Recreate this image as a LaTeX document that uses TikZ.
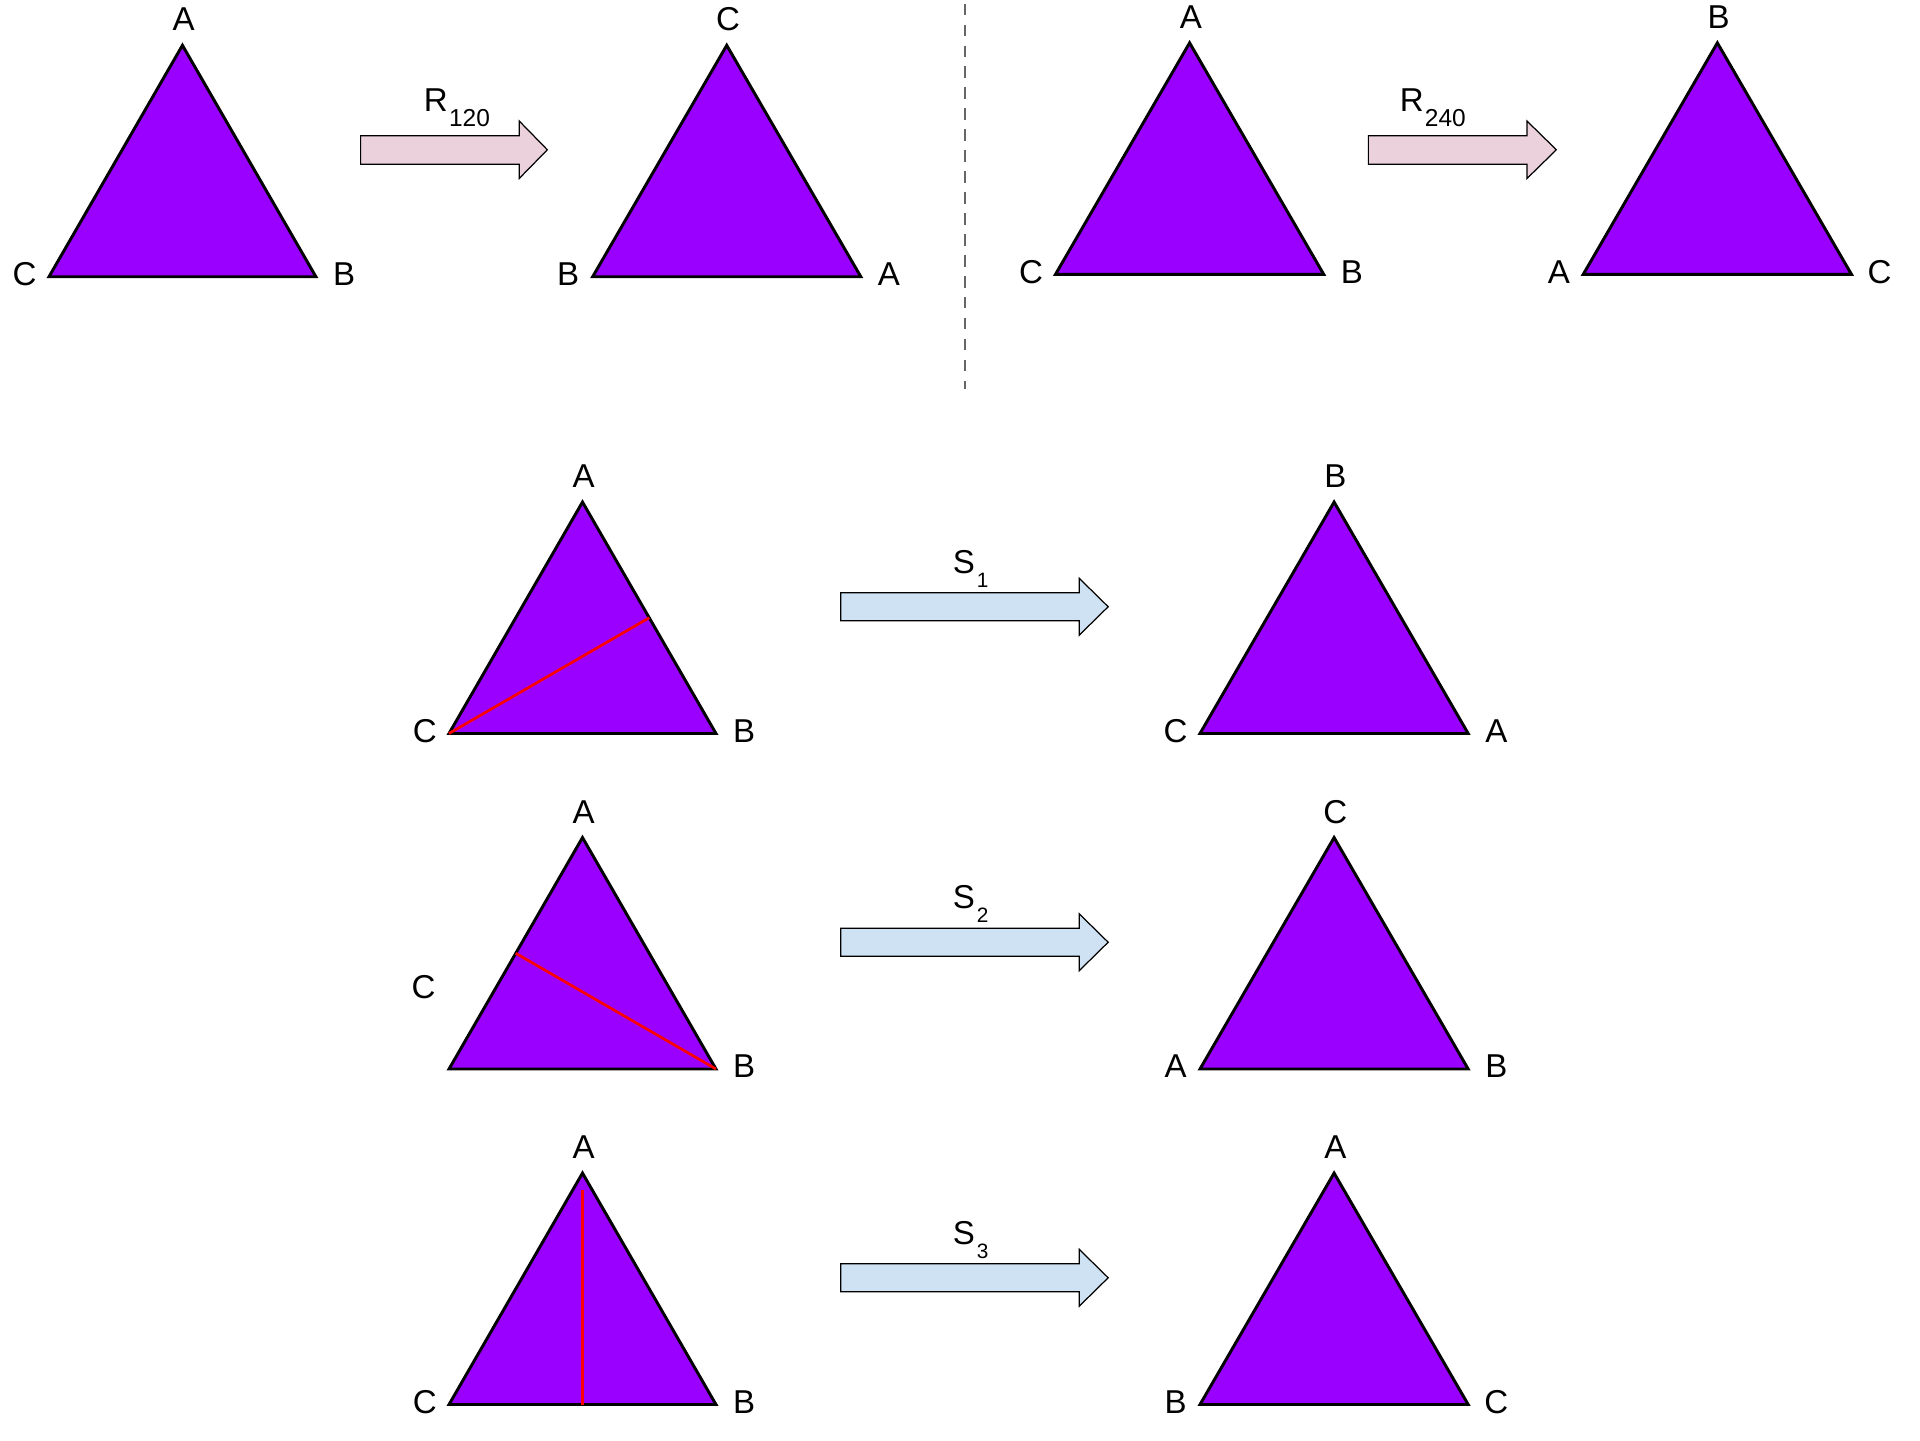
\documentclass[tikz,border=0pt]{standalone}
\usepackage{fontspec}
\setmainfont{Liberation Sans}
\usetikzlibrary{positioning}

\definecolor{trifill}{HTML}{9900FF}
\definecolor{rotpink}{HTML}{EAD1DC}
\definecolor{flipblue}{HTML}{CFE2F3}
\definecolor{divgray}{HTML}{666666}

\tikzset{
	tri/.style={fill=trifill, draw=black, line width=2.4pt, line join=miter},
	median/.style={draw=red, line width=2.2pt},
	vlbl/.style={inner sep=0pt, font=\fontsize{27}{32}\selectfont},
	oplbl/.style={inner sep=0pt, anchor=base west, font=\fontsize{27}{32}\selectfont},
	rotarrow/.style={fill=rotpink, draw=black, line width=1pt},
	fliparrow/.style={fill=flipblue, draw=black, line width=1pt},
	divider/.style={draw=divgray, line width=2pt, dash pattern=on 9.5pt off 7.6pt}
}

\begin{document}
\begin{tikzpicture}[x=1pt,y=-1pt]
\useasboundingbox (0,0) rectangle (1568,1176);

% rotation by 120
\filldraw[tri] (40,226) -- (258,226) -- (149,37) -- cycle;
\node[vlbl] (ra1) at (150,16) {A};
\node[vlbl] (rc1) at (20,224) {C};
\node[vlbl] (rb1) at (281,224) {B};

\filldraw[rotarrow] (294.5,110.8) -- (424,110.8) -- (424,98.8) -- (447,122.3)
	-- (424,145.8) -- (424,134.2) -- (294.5,134.2) -- cycle;
\node[oplbl] (r120) at (346,91.2) {R\kern1pt\raisebox{-12.3pt}{\fontsize{20}{22}\selectfont 120}};

\filldraw[tri] (484,226) -- (703,226) -- (593.5,37) -- cycle;
\node[vlbl] (rc2) at (594.5,16) {C};
\node[vlbl] (rb2) at (464,224) {B};
\node[vlbl] (ra2) at (726,224) {A};

\draw[divider] (788,3) -- (788,318);

% rotation by 240
\filldraw[tri] (862,224) -- (1081,224) -- (971.5,35) -- cycle;
\node[vlbl] (ra3) at (972.5,14) {A};
\node[vlbl] (rc3) at (842,222) {C};
\node[vlbl] (rb3) at (1104,222) {B};

\filldraw[rotarrow] (1117.5,110.8) -- (1247,110.8) -- (1247,98.8) -- (1271,122.3)
	-- (1247,145.8) -- (1247,134.2) -- (1117.5,134.2) -- cycle;
\node[oplbl] (r240) at (1143,91.2) {R\kern1pt\raisebox{-12.3pt}{\fontsize{20}{22}\selectfont 240}};

\filldraw[tri] (1293,224) -- (1512,224) -- (1402.5,35) -- cycle;
\node[vlbl] (rb4) at (1403.5,14) {B};
\node[vlbl] (ra4) at (1273,222) {A};
\node[vlbl] (rc4) at (1535,222) {C};

% reflection s1
\coordinate (c1) at (366.7,599);
\coordinate (m1) at (530.2,504.5);
\filldraw[tri] (366.7,599) -- (584.7,599) -- (475.7,410) -- cycle;
\draw[median] (c1) -- (m1);
\node[vlbl] (sa1) at (476.7,389) {A};
\node[vlbl] (sc1) at (347,597) {C};
\node[vlbl] (sb1) at (607.7,597) {B};

\filldraw[fliparrow] (686.6,484) -- (881.4,484) -- (881.4,472.3) -- (905,495.5)
	-- (881.4,518.7) -- (881.4,507) -- (686.6,507) -- cycle;
\node[oplbl] (s1) at (778,468) {S\kern1.5pt\raisebox{-11.5pt}{\fontsize{17}{18}\selectfont 1}};

\filldraw[tri] (980,599) -- (1199,599) -- (1089.5,410) -- cycle;
\node[vlbl] (sb1r) at (1090.5,389) {B};
\node[vlbl] (sc1r) at (960,597) {C};
\node[vlbl] (sa1r) at (1222,597) {A};

% reflection s2
\coordinate (b2) at (584.7,873);
\coordinate (m2) at (421.2,778.5);
\filldraw[tri] (366.7,873) -- (584.7,873) -- (475.7,684) -- cycle;
\draw[median] (b2) -- (m2);
\node[vlbl] (sa2) at (476.7,663) {A};
\node[vlbl] (sc2) at (346,806) {C};
\node[vlbl] (sb2) at (607.7,871) {B};

\filldraw[fliparrow] (686.6,758) -- (881.4,758) -- (881.4,746.3) -- (905,769.5)
	-- (881.4,792.7) -- (881.4,781) -- (686.6,781) -- cycle;
\node[oplbl] (s2) at (778,742) {S\kern1.5pt\raisebox{-11.5pt}{\fontsize{17}{18}\selectfont 2}};

\filldraw[tri] (980,873) -- (1199,873) -- (1089.5,684) -- cycle;
\node[vlbl] (sc2r) at (1090.5,663) {C};
\node[vlbl] (sa2r) at (960,871) {A};
\node[vlbl] (sb2r) at (1222,871) {B};

% reflection s3
\coordinate (t3) at (475.7,972);
\coordinate (f3) at (475.7,1147);
\filldraw[tri] (366.7,1147) -- (584.7,1147) -- (475.7,958) -- cycle;
\draw[median] (t3) -- (f3);
\node[vlbl] (sa3) at (476.7,937) {A};
\node[vlbl] (sc3) at (347,1145) {C};
\node[vlbl] (sb3) at (607.7,1145) {B};

\filldraw[fliparrow] (686.6,1032) -- (881.4,1032) -- (881.4,1020.3) -- (905,1043.5)
	-- (881.4,1066.7) -- (881.4,1055) -- (686.6,1055) -- cycle;
\node[oplbl] (s3) at (778,1016) {S\kern1.5pt\raisebox{-11.5pt}{\fontsize{17}{18}\selectfont 3}};

\filldraw[tri] (980,1147) -- (1199,1147) -- (1089.5,958) -- cycle;
\node[vlbl] (sa3r) at (1090.5,937) {A};
\node[vlbl] (sb3r) at (960,1145) {B};
\node[vlbl] (sc3r) at (1222,1145) {C};
\end{tikzpicture}
\end{document}
